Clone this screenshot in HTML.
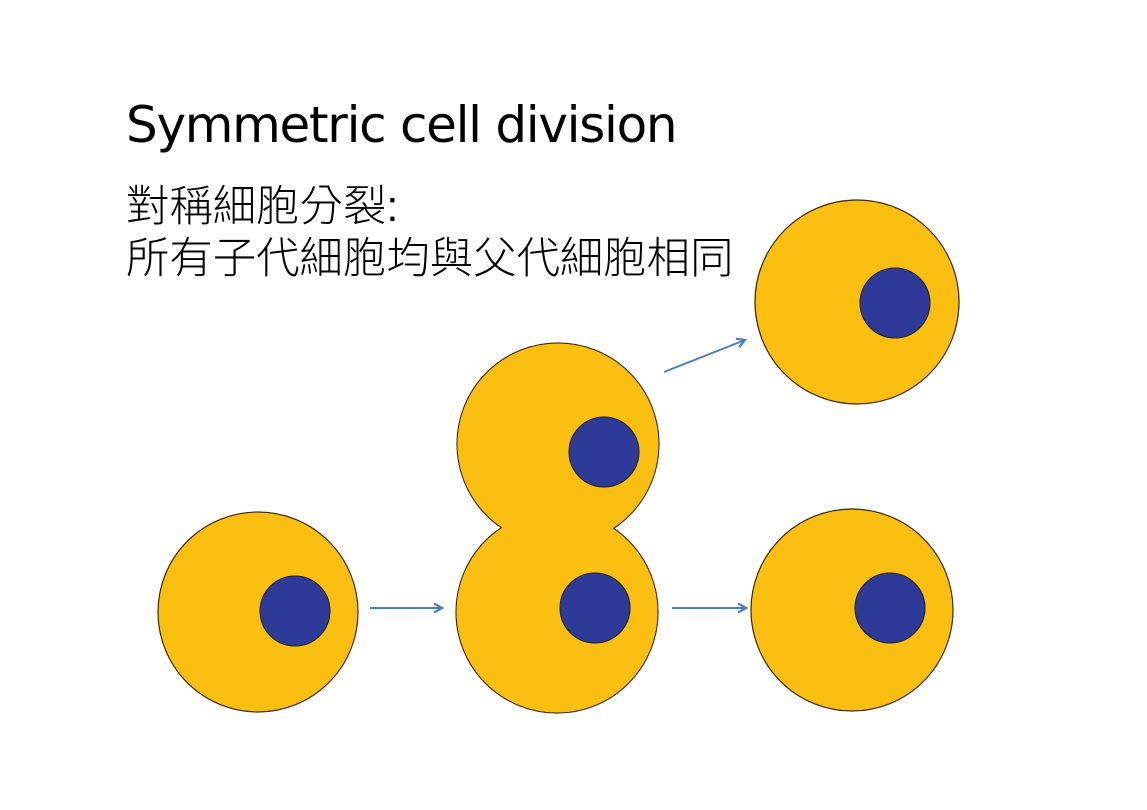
<!DOCTYPE html>
<html><head><meta charset="utf-8"><style>
html,body{margin:0;padding:0;background:#fff;width:1147px;height:810px;overflow:hidden}
.t{position:absolute;left:126px;font-family:"Liberation Sans","Noto Sans CJK TC",sans-serif;color:#000;white-space:nowrap}
</style></head><body>
<div class="t" style="top:96px;font-size:50px;font-family:'DejaVu Sans','Liberation Sans',sans-serif;letter-spacing:-1.3px">Symmetric cell division</div>
<div class="t" style="top:172px;font-size:43.4px;font-weight:300">對稱細胞分裂:</div>
<div class="t" style="top:224px;font-size:43.4px;font-weight:300">所有子代細胞均與父代細胞相同</div>
<svg width="1147" height="810" style="position:absolute;left:0;top:0">
<defs><marker id="a" markerWidth="12" markerHeight="12" refX="9" refY="6" orient="auto" markerUnits="userSpaceOnUse"><path d="M1,1.5 L9,6 L1,10.5" fill="none" stroke="#4a7ebb" stroke-width="2.2"/></marker></defs>
<g stroke="#3a2a10" stroke-width="1.2" fill="#fbbf12">
<circle cx="258" cy="612" r="100"/>
<circle cx="857" cy="302" r="102"/>
<circle cx="852" cy="610" r="101"/>
<circle cx="558" cy="444" r="101"/>
<circle cx="557" cy="612" r="101"/>
</g>
<circle cx="558" cy="444" r="100.4" fill="#fbbf12"/>
<circle cx="557" cy="612" r="100.4" fill="#fbbf12"/>
<g stroke="#222" stroke-width="1" fill="#2e3a97">
<circle cx="295" cy="611" r="35"/>
<circle cx="595" cy="608" r="35"/>
<circle cx="604" cy="452" r="35"/>
<circle cx="895" cy="303" r="35"/>
<circle cx="890" cy="608" r="35"/>
</g>
<g stroke="#4a7ebb" stroke-width="2" marker-end="url(#a)">
<line x1="370" y1="608" x2="442" y2="608"/>
<line x1="672" y1="608" x2="746" y2="608"/>
<line x1="664" y1="372" x2="745" y2="340"/>
</g>
</svg>
</body></html>
